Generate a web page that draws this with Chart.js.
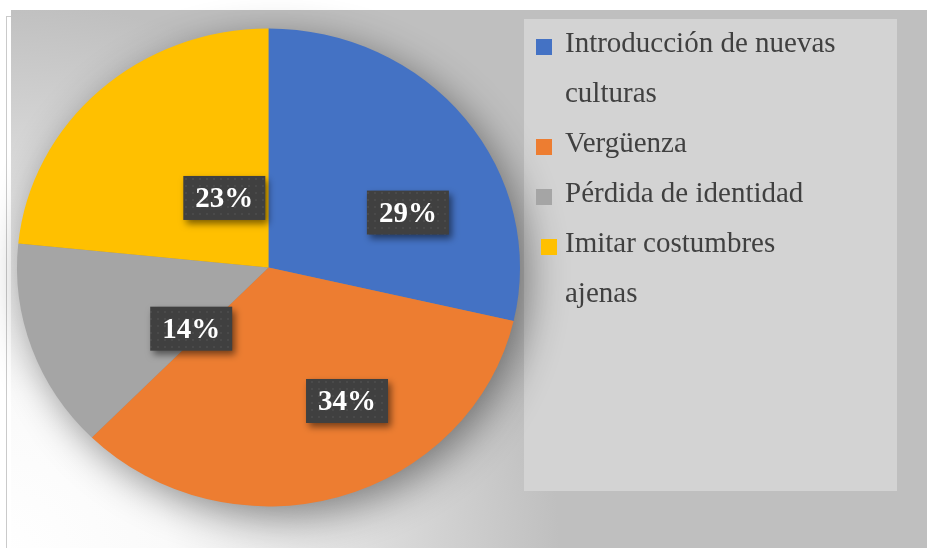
<!DOCTYPE html>
<html>
<head>
<meta charset="utf-8">
<script src="https://cdn.jsdelivr.net/npm/chart.js@4"></script>
<style>
    body { margin: 0; background: #ffffff; }
    #wrap { position: relative; width: 927px; height: 548px; }
</style>
</head>
<body>
<div id="wrap"><canvas id="pieChart"></canvas></div>
<script>
/* global Chart */

const categories = [
    ['Introducción de nuevas', 'culturas'],
    ['Vergüenza'],
    ['Pérdida de identidad'],
    ['Imitar costumbres', 'ajenas']
];
// slice sizes; the boxes show them rounded
const shares = [28.6, 33.8, 14.2, 23.4];
const sliceColors = ['#4472C4', '#ED7D31', '#A5A5A5', '#FFC000'];

// where the percent boxes sit: fraction of radius and shift from mid angle (deg)
const labelRadius = [0.60, 0.64, 0.40, 0.34];
const labelShiftDeg = [16, -13, -20, 11];

const SQUASH = 0.95;
const serif = '"Liberation Serif", "Times New Roman", serif';

const makeBoxPattern = (ctx) => {
    const tile = document.createElement('canvas');
    tile.width = 7;
    tile.height = 7;
    const t = tile.getContext('2d');
    t.fillStyle = '#404040';
    t.fillRect(0, 0, 7, 7);
    t.fillStyle = '#4a4a4a';
    t.fillRect(3, 3, 2, 2);
    return ctx.createPattern(tile, 'repeat');
};

const backgroundPlugin = {
    id: 'background',
    beforeDraw(chart) {
        const ctx = chart.ctx;
        ctx.save();
        ctx.fillStyle = '#ffffff';
        ctx.fillRect(0, 0, chart.width, chart.height);

        ctx.strokeStyle = '#cacaca';
        ctx.lineWidth = 1;
        ctx.strokeRect(6.5, 16.5, 1000, 1000);

        const grad = ctx.createRadialGradient(0, 560, 0, 0, 560, 560);
        grad.addColorStop(0, '#ffffff');
        grad.addColorStop(0.3, '#fafafa');
        grad.addColorStop(0.65, '#dedede');
        grad.addColorStop(1, '#bfbfbf');
        ctx.fillStyle = grad;
        ctx.fillRect(11, 10, chart.width - 11, chart.height - 10);

        ctx.fillStyle = '#d3d3d3';
        ctx.fillRect(524, 19, 373, 472);
        ctx.restore();
    }
};

const ellipsePlugin = {
    id: 'ellipsePie',
    beforeDatasetsDraw(chart) {
        const ctx = chart.ctx;
        const arc = chart.getDatasetMeta(0).data[0];
        ctx.save();
        ctx.translate(arc.x, arc.y);
        ctx.scale(1, SQUASH);
        ctx.translate(-arc.x, -arc.y);

        ctx.save();
        ctx.shadowColor = 'rgba(0, 0, 0, 0.45)';
        ctx.shadowBlur = 40;
        ctx.shadowOffsetX = 8;
        ctx.shadowOffsetY = 10;
        ctx.beginPath();
        ctx.arc(arc.x, arc.y, arc.outerRadius - 1, 0, Math.PI * 2);
        ctx.fillStyle = '#888888';
        ctx.fill();
        ctx.restore();
    },
    afterDatasetsDraw(chart) {
        const ctx = chart.ctx;
        ctx.restore();

        const pattern = makeBoxPattern(ctx);
        chart.getDatasetMeta(0).data.forEach((arc, i) => {
            const mid = (arc.startAngle + arc.endAngle) / 2 + labelShiftDeg[i] * Math.PI / 180;
            const d = arc.outerRadius * labelRadius[i];
            const cx = arc.x + Math.cos(mid) * d;
            const cy = arc.y + Math.sin(mid) * d * SQUASH;
            const w = 82;
            const h = 44;

            ctx.save();
            ctx.shadowColor = 'rgba(0, 0, 0, 0.5)';
            ctx.shadowBlur = 7;
            ctx.shadowOffsetX = 3;
            ctx.shadowOffsetY = 4;
            ctx.fillStyle = pattern;
            ctx.fillRect(cx - w / 2, cy - h / 2, w, h);
            ctx.restore();

            ctx.save();
            ctx.fillStyle = '#ffffff';
            ctx.font = 'bold 29px ' + serif;
            ctx.textAlign = 'center';
            ctx.textBaseline = 'middle';
            ctx.fillText(Math.round(shares[i]) + '%', cx, cy + 2);
            ctx.restore();
        });
    }
};

const legendPlugin = {
    id: 'sideLegend',
    afterDraw(chart) {
        const ctx = chart.ctx;
        const colors = chart.data.datasets[0].backgroundColor;
        let baseline = 52;
        ctx.save();
        ctx.font = '29px ' + serif;
        ctx.textBaseline = 'alphabetic';
        chart.data.labels.forEach((lines, i) => {
            ctx.fillStyle = colors[i];
            ctx.fillRect(i === 3 ? 541 : 536, baseline - 13, 16, 16);
            ctx.fillStyle = '#404040';
            lines.forEach((line) => {
                ctx.fillText(line, 565, baseline);
                baseline += 50;
            });
        });
        ctx.restore();
    }
};

new Chart(document.getElementById('pieChart'), {
    type: 'pie',
    data: {
        labels: categories,
        datasets: [{
            data: shares,
            backgroundColor: sliceColors,
            borderWidth: 0
        }]
    },
    options: {
        responsive: true,
        maintainAspectRatio: false,
        animation: false,
        events: [],
        layout: {
            padding: { left: 17, right: 407, top: 16, bottom: 29 }
        },
        plugins: {
            legend: { display: false },
            tooltip: { enabled: false }
        }
    },
    plugins: [backgroundPlugin, ellipsePlugin, legendPlugin]
});
</script>
</body>
</html>
